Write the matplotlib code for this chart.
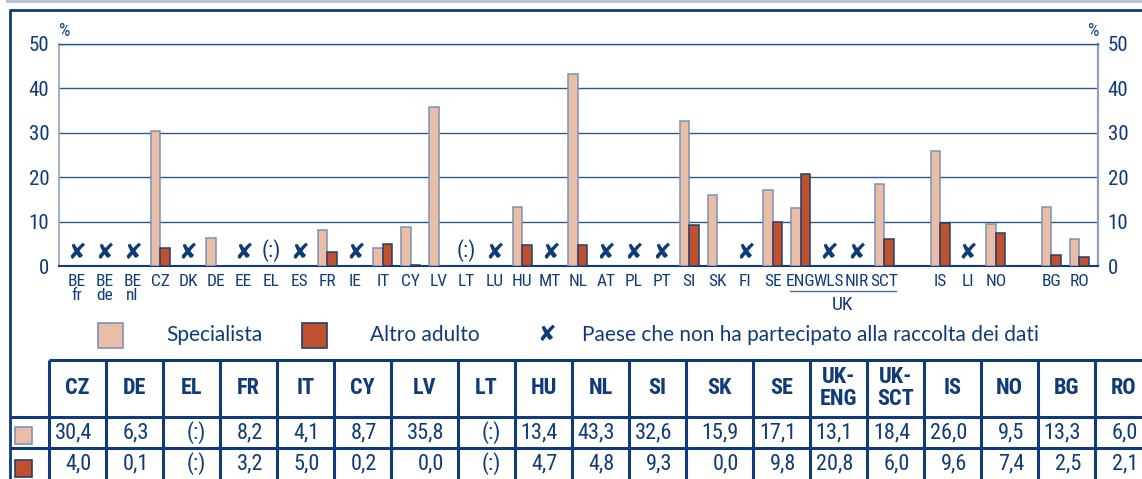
import os
import numpy as np
import matplotlib
matplotlib.use("Agg")
import matplotlib.pyplot as plt
import matplotlib.transforms as mtransforms
from matplotlib.patches import Rectangle
from matplotlib import font_manager
from matplotlib.font_manager import FontProperties

# Table values (in %), one column per country
table_codes = ['CZ', 'DE', 'EL', 'FR', 'IT', 'CY', 'LV', 'LT', 'HU', 'NL',
               'SI', 'SK', 'SE', 'UK-ENG', 'UK-SCT', 'IS', 'NO', 'BG', 'RO']
specialista = [30.4, 6.3, None, 8.2, 4.1, 8.7, 35.8, None, 13.4, 43.3,
               32.6, 15.9, 17.1, 13.1, 18.4, 26.0, 9.5, 13.3, 6.0]
altro_adulto = [4.0, 0.1, None, 3.2, 5.0, 0.2, 0.0, None, 4.7, 4.8,
                9.3, 0.0, 9.8, 20.8, 6.0, 9.6, 7.4, 2.5, 2.1]

# Countries along the chart axis ('' leaves an empty slot)
chart_codes = ['BE fr', 'BE de', 'BE nl', 'CZ', 'DK', 'DE', 'EE', 'EL', 'ES',
               'FR', 'IE', 'IT', 'CY', 'LV', 'LT', 'LU', 'HU', 'MT', 'NL',
               'AT', 'PL', 'PT', 'SI', 'SK', 'FI', 'SE', 'UK-ENG', 'UK-WLS',
               'UK-NIR', 'UK-SCT', '', 'IS', 'LI', 'NO', '', 'BG', 'RO']
non_partecipanti = ['BE fr', 'BE de', 'BE nl', 'DK', 'EE', 'ES', 'IE', 'LU',
                    'MT', 'AT', 'PL', 'PT', 'FI', 'UK-WLS', 'UK-NIR', 'LI']

legend_labels = ['Specialista', 'Altro adulto',
                 'Paese che non ha partecipato alla raccolta dei dati']

navy = '#0f3c78'
grid_col = '#2a5890'
side_col = '#8da2c2'
light = '#eabda7'
light_edge = '#7c92b6'
dark = '#c0512f'
dark_edge = '#243f6c'


def find_font(keys):
    # first font file whose name contains one of the keys
    for key in keys:
        for f in font_manager.fontManager.ttflist:
            if key.lower() in os.path.basename(f.fname).lower():
                return f.fname
    return None


reg_file = find_font(['LiberationSansNarrow-Regular', 'RobotoCondensed-Regular',
                      'OpenSans_Condensed-Regular', 'OpenSansCondensed-Regular',
                      'NotoSansCondensed-Regular', 'DejaVuSansCondensed.ttf'])
bold_file = find_font(['LiberationSansNarrow-Bold.', 'RobotoCondensed-Bold.',
                       'OpenSans_Condensed-Bold.', 'OpenSansCondensed-Bold.',
                       'NotoSansCondensed-Bold.', 'DejaVuSansCondensed-Bold.'])


def narrow(size, bold=False):
    f = bold_file if bold else reg_file
    if f:
        return FontProperties(fname=f, size=size)
    return FontProperties(family='DejaVu Sans', stretch='condensed',
                          weight='bold' if bold else 'normal', size=size * 0.9)


installed = {f.name for f in font_manager.fontManager.ttflist}
body = 'Lato' if 'Lato' in installed else 'DejaVu Sans'

W, H = 1142, 479
fig = plt.figure(figsize=(W / 100, H / 100), dpi=100)

# full-figure layer in pixel units for frame, legend and table
over = fig.add_axes([0, 0, 1, 1])
over.set_xlim(0, W)
over.set_ylim(H, 0)
over.axis('off')

# ---- bar chart ----
left, right, top, bottom = 59, 1098, 44, 266
ax = fig.add_axes([left / W, (H - bottom) / H, (right - left) / W, (bottom - top) / H])
ax.set_facecolor('none')
x = np.arange(len(chart_codes))
ax.set_xlim(-0.63, 36.67)
ax.set_ylim(0, 50)

lookup = dict(zip(table_codes, zip(specialista, altro_adulto)))
w = 0.34
for i, code in enumerate(chart_codes):
    if code in non_partecipanti:
        ax.text(i, 3, '\u2718', ha='center', va='center', color=navy,
                fontsize=16, family='DejaVu Sans')
    elif code in lookup:
        s, a = lookup[code]
        if s is None:
            ax.text(i, 3.4, '(:)', ha='center', va='center', color=navy,
                    fontproperties=narrow(16))
        else:
            ax.bar(i - w / 2, s, w, color=light, edgecolor=light_edge, lw=1.1, zorder=3)
            ax.bar(i + w / 2, a, w, color=dark, edgecolor=dark_edge, lw=1.1, zorder=3)

tick_labels = [c.replace('UK-', '').replace(' ', '\n') for c in chart_codes]
ax.set_xticks(x, tick_labels)
for lab in ax.get_xticklabels():
    lab.set_fontproperties(narrow(12.5))
    lab.set_linespacing(0.85)
ax.tick_params(axis='x', length=0, pad=6, colors=navy)
ax.set_yticks([0, 10, 20, 30, 40, 50])
ax.tick_params(axis='y', length=0, pad=7, colors=navy,
               labelleft=True, labelright=True)
for t in ax.yaxis.get_major_ticks():
    t.label1.set_fontproperties(narrow(15))
    t.label2.set_fontproperties(narrow(15))
ax.yaxis.grid(True, color=grid_col, lw=1.0)
ax.set_axisbelow(True)
ax.spines['top'].set_color(grid_col)
ax.spines['top'].set_linewidth(1.0)
ax.spines['bottom'].set_color(navy)
ax.spines['bottom'].set_linewidth(1.5)
ax.spines['left'].set_color(side_col)
ax.spines['left'].set_linewidth(1.2)
ax.spines['right'].set_color(side_col)
ax.spines['right'].set_linewidth(1.6)

over.text(65, 31, '%', ha='center', va='center', color=navy, fontproperties=narrow(13))
over.text(1094, 31, '%', ha='center', va='center', color=navy, fontproperties=narrow(13))

# UK bracket under ENG..SCT
bt = mtransforms.blended_transform_factory(ax.transData, over.transData)
i_eng, i_sct = chart_codes.index('UK-ENG'), chart_codes.index('UK-SCT')
over.plot([i_eng - 0.38, i_sct + 0.42], [291, 291], color='#4a6c9c', lw=1.0, transform=bt)
over.text((i_eng + i_sct) / 2, 305, 'UK', ha='center', va='center', color=navy,
          fontproperties=narrow(14), transform=bt)

# ---- frame ----
over.add_patch(Rectangle((6, 0), W - 6, 3.3, color='#b8c2db', lw=0))
over.plot([9, W], [9.5, 9.5], color=navy, lw=2.0, solid_capstyle='butt')
over.plot([10, 10], [9.5, H], color=navy, lw=2.0, solid_capstyle='butt')

# ---- legend ----
over.add_patch(Rectangle((97.5, 322.5), 25, 25, facecolor=light, edgecolor=light_edge, lw=1.2))
over.add_patch(Rectangle((302, 322.5), 25, 25, facecolor=dark, edgecolor=dark_edge, lw=1.2))
over.text(166, 335, legend_labels[0], va='center', color=navy, fontsize=15, family=body)
over.text(370, 335, legend_labels[1], va='center', color=navy, fontsize=15, family=body)
over.text(547, 335, '\u2718', ha='center', va='center', color=navy, fontsize=16,
          family='DejaVu Sans')
over.text(582, 335, legend_labels[2], va='center', color=navy, fontsize=15, family=body)

# ---- table ----
col_w = [67 if c in ('LV', 'SK') else 57 for c in table_codes]
edges = np.concatenate([[49], 49 + np.cumsum(col_w)])
t_top, t_head, t_row1 = 360, 417, 448
tl = dict(color=navy, lw=2.2, solid_capstyle='butt')
over.plot([49, W], [t_top, t_top], **tl)
over.plot([10, W], [t_head, t_head], **tl)
over.plot([10, W], [t_row1, t_row1], **tl)
for e in edges:
    over.plot([e, e], [t_top, H], **tl)


def fmt(v):
    return '(:)' if v is None else f'{v:.1f}'.replace('.', ',')


for j, code in enumerate(table_codes):
    cx = (edges[j] + edges[j + 1]) / 2
    over.text(cx, 388, code.replace('-', '-\n'), ha='center', va='center',
              color=navy, fontproperties=narrow(16, bold=True), linespacing=0.95)
    rx = edges[j + 1] - 14
    over.text(rx, 433, fmt(specialista[j]), ha='right', va='center',
              color=navy, fontproperties=narrow(16))
    over.text(rx, 464, fmt(altro_adulto[j]), ha='right', va='center',
              color=navy, fontproperties=narrow(16))

over.add_patch(Rectangle((15, 427), 17, 17, facecolor=light, edgecolor=light_edge, lw=1.2))
over.add_patch(Rectangle((15, 460), 17, 17, facecolor=dark, edgecolor=dark_edge, lw=1.2))

fig.savefig('out.png', dpi=100)
